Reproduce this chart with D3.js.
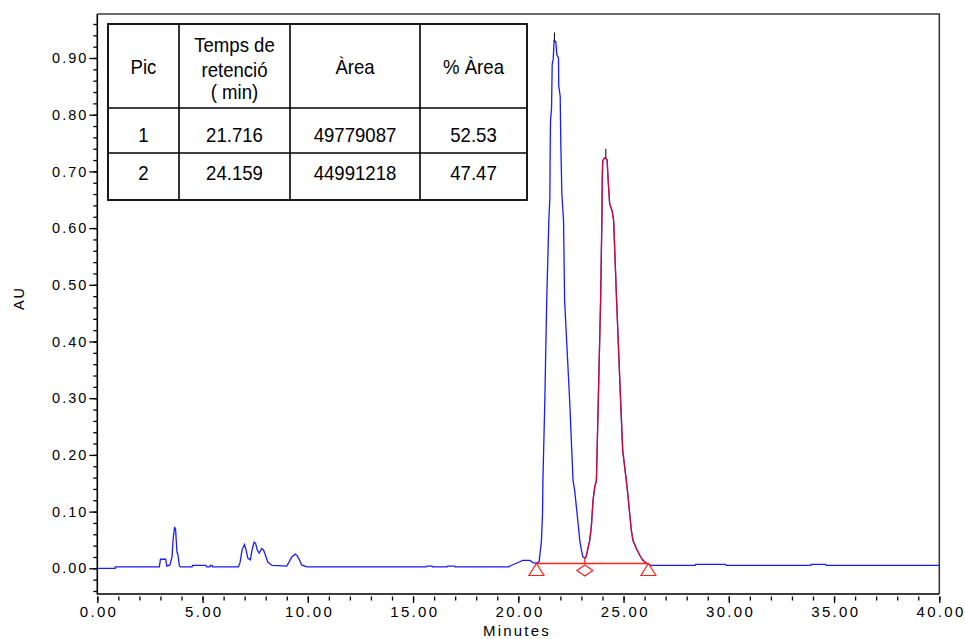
<!DOCTYPE html>
<html>
<head>
<meta charset="utf-8">
<script src="https://cdn.jsdelivr.net/npm/d3@7"></script>
<style>
body { margin: 0; background: #fff; }
svg { display: block; font-family: "Liberation Sans", Arial, sans-serif; }
</style>
</head>
<body>
<svg id="chart" width="965" height="639"></svg>
<script>
// chromatogram trace (minutes, AU)
var traceT = [0, 0.85, 0.86, 2.95, 3.0, 3.25, 3.3, 3.45, 3.55, 3.6, 3.67, 3.72, 3.78, 3.83, 3.9, 3.95,
  4.5, 4.52, 5.15, 5.2, 5.35, 5.37, 5.45, 5.48, 6.7, 6.78, 6.88, 6.99, 7.05, 7.15, 7.27, 7.35, 7.45,
  7.52, 7.6, 7.69, 7.81, 7.9, 7.98, 8.1, 8.3, 9.0, 9.08, 9.24, 9.4, 9.5, 9.6, 9.71, 9.95,
  15.62, 15.65, 15.9, 15.93, 16.62, 16.65, 16.98, 17.0, 19.55, 19.65, 19.85, 20.1, 20.2, 20.55, 20.7,
  20.86, 20.99, 21.1, 21.15, 21.17, 21.26, 21.35, 21.45, 21.5, 21.51, 21.53, 21.58, 21.61, 21.66, 21.7,
  21.78, 21.83, 21.91, 21.92, 21.99, 22.02, 22.07, 22.15, 22.2, 22.44, 22.54, 22.6, 22.68, 22.76, 22.84,
  22.92, 23.0, 23.07, 23.16, 23.22, 23.39, 23.47, 23.55, 23.63, 23.71, 23.8, 23.91, 23.97, 23.99, 24.01,
  24.1, 24.14, 24.22, 24.27, 24.34, 24.46, 24.53, 24.67, 24.86, 24.96, 25.13, 25.2, 25.29, 25.37, 25.45,
  25.61, 25.77, 25.92, 26.08, 26.3, 28.4, 28.42, 29.85, 29.88, 33.9, 33.92, 34.6, 34.63, 40];
var traceAU = [0, 0, 0.0025, 0.0025, 0.016, 0.016, 0.004, 0.006, 0.02, 0.05, 0.073, 0.068, 0.03, 0.024, 0.004, 0.0025,
  0.0025, 0.005, 0.005, 0.0025, 0.0025, 0.005, 0.005, 0.0025, 0.0025, 0.01, 0.033, 0.042, 0.035, 0.018, 0.015, 0.032, 0.046,
  0.044, 0.032, 0.027, 0.035, 0.032, 0.024, 0.011, 0.005, 0.004, 0.009, 0.02, 0.025, 0.022, 0.015, 0.006, 0.0025,
  0.0025, 0.004, 0.004, 0.0025, 0.0025, 0.004, 0.004, 0.0025, 0.0025, 0.005, 0.008, 0.012, 0.014, 0.014, 0.01,
  0.009, 0.012, 0.049, 0.096, 0.155, 0.296, 0.472, 0.613, 0.654, 0.72, 0.789, 0.812, 0.889, 0.898, 0.93,
  0.929, 0.906, 0.9, 0.851, 0.833, 0.748, 0.66, 0.613, 0.472, 0.296, 0.208, 0.155, 0.137, 0.108, 0.079,
  0.049, 0.032, 0.02, 0.018, 0.02, 0.049, 0.073, 0.12, 0.143, 0.155, 0.296, 0.472, 0.613, 0.689, 0.719,
  0.724, 0.724, 0.72, 0.683, 0.643, 0.63, 0.613, 0.472, 0.296, 0.208, 0.155, 0.132, 0.097, 0.067, 0.049,
  0.035, 0.023, 0.014, 0.009, 0.005, 0.005, 0.007, 0.007, 0.005, 0.005, 0.007, 0.007, 0.005, 0.005];

// peaks table
var peakIds = ["1", "2"];
var retTimes = [21.716, 24.159];
var areas = [49779087, 44991218];
var pctAreas = [52.53, 47.47];
var headerLines = [["Pic"], ["Temps de", "retenció", "( min)"], ["Àrea"], ["% Àrea"]];

// apex marks (top of the black tick, AU) and integration events
var apexTop = [0.945, 0.74];
var apexBottom = [0.929, 0.724];
var integStart = 20.86, integValley = 23.16, integEnd = 26.18, integBase = 0.0085;
var valleyAU = 0.018;

var xMajor = d3.range(0, 9).map(function(i){ return i * 5; });
var xMinor = d3.range(0, 41);
var yMajor = d3.range(0, 10).map(function(i){ return i / 10; });
var yMinor = d3.range(-2, 49).map(function(i){ return i / 50; });

var svg = d3.select("#chart");
var x = d3.scaleLinear().domain([0, 40]).range([97.3, 939.3]);
var y = d3.scaleLinear().domain([0, 0.1]).range([568.3, 511.6]);
var plotTop = 14, plotBottom = 594;

// frame (top + right are grey)
svg.append("path")
  .attr("d", "M" + x(0) + "," + plotTop + "H" + x(40) + "V" + plotBottom)
  .attr("fill", "none").attr("stroke", "#3c3c3c").attr("stroke-width", 1.6);

// y axis
var yMinorAxis = d3.axisLeft(y).tickValues(yMinor.filter(function(v){ return y(v) > plotTop && y(v) < plotBottom; }))
  .tickSize(4).tickFormat("");
var yMajorAxis = d3.axisLeft(y).tickValues(yMajor).tickSize(8).tickPadding(3).tickFormat(d3.format(".2f"));
var gy1 = svg.append("g").attr("transform", "translate(" + x(0) + ",0)").call(yMinorAxis);
var gy2 = svg.append("g").attr("transform", "translate(" + x(0) + ",0)").call(yMajorAxis);
[gy1, gy2].forEach(function(g){
  g.select(".domain").remove();
  g.selectAll("line").attr("stroke", "#000").attr("stroke-width", 1.3);
});
gy2.selectAll("text").attr("font-size", 14.5).attr("letter-spacing", 2).attr("dx", 2)
  .attr("font-family", "Liberation Sans, Arial, sans-serif").attr("fill", "#000");

// x axis
var xMinorAxis = d3.axisBottom(x).tickValues(xMinor).tickSize(0).tickFormat("");
var xMajorAxis = d3.axisBottom(x).tickValues(xMajor).tickSize(0).tickPadding(0).tickFormat(d3.format(".2f"));
var gx1 = svg.append("g").attr("transform", "translate(0," + plotBottom + ")").call(xMinorAxis);
var gx2 = svg.append("g").attr("transform", "translate(0," + plotBottom + ")").call(xMajorAxis);
gx1.select(".domain").remove(); gx2.select(".domain").remove();
gx1.selectAll("line").attr("y1", 2.5).attr("y2", 6.5).attr("stroke", "#000").attr("stroke-width", 1.3);
gx2.selectAll("line").attr("y1", 2.5).attr("y2", 9).attr("stroke", "#000").attr("stroke-width", 1.3);
gx2.selectAll("text").attr("y", 23).attr("dy", null).attr("font-size", 15).attr("letter-spacing", 2.3)
  .attr("dx", 1.2).attr("font-family", "Liberation Sans, Arial, sans-serif").attr("fill", "#000");

// axis lines
svg.append("path")
  .attr("d", "M" + x(0) + "," + plotTop + "V" + plotBottom + "H" + x(40))
  .attr("fill", "none").attr("stroke", "#000").attr("stroke-width", 1.6);

svg.append("text").attr("x", 517).attr("y", 636).attr("text-anchor", "middle")
  .attr("font-size", 15).attr("letter-spacing", 2.2).text("Minutes");
svg.append("text").attr("transform", "translate(24,298) rotate(-90)").attr("text-anchor", "middle")
  .attr("font-size", 14.5).attr("letter-spacing", 2).text("AU");

// trace
var pts = traceT.map(function(t, i){ return [t, traceAU[i]]; });
var line = d3.line().x(function(d){ return x(d[0]); }).y(function(d){ return y(d[1]); });
svg.append("path").datum(pts).attr("d", line)
  .attr("fill", "none").attr("stroke", "#1a1aff").attr("stroke-width", 1.3);
svg.append("path").datum(pts.filter(function(d){ return d[0] >= integValley && d[0] <= 26.3; })).attr("d", line)
  .attr("fill", "none").attr("stroke", "#ff0000").attr("stroke-opacity", 0.8).attr("stroke-width", 1.3);

// apex ticks
retTimes.forEach(function(t, i){
  svg.append("line").attr("x1", x(t)).attr("x2", x(t)).attr("y1", y(apexTop[i])).attr("y2", y(apexBottom[i]))
    .attr("stroke", "#000").attr("stroke-width", 1);
});

// integration baseline + markers
var red = "#ff2020";
svg.append("line").attr("x1", x(integStart)).attr("x2", x(integEnd)).attr("y1", y(integBase)).attr("y2", y(integBase))
  .attr("stroke", red).attr("stroke-width", 1.3);
svg.append("line").attr("x1", x(integValley)).attr("x2", x(integValley)).attr("y1", y(integBase)).attr("y2", y(valleyAU))
  .attr("stroke", red).attr("stroke-width", 1.3);
[integStart, integEnd].forEach(function(t){
  var cx = x(t), cy = y(integBase);
  svg.append("path").attr("d", "M" + cx + "," + cy + "L" + (cx + 7.5) + "," + (cy + 12) + "L" + (cx - 7.5) + "," + (cy + 12) + "Z")
    .attr("fill", "none").attr("stroke", red).attr("stroke-width", 1.2);
});
(function(){
  var cx = x(integValley), cy = y(integBase) + 1.5;
  svg.append("path").attr("d", "M" + cx + "," + cy + "L" + (cx + 8) + "," + (cy + 5.5) + "L" + cx + "," + (cy + 11) + "L" + (cx - 8) + "," + (cy + 5.5) + "Z")
    .attr("fill", "none").attr("stroke", red).attr("stroke-width", 1.2);
})();

// table
var colX = [108, 179, 290, 420, 527];
var rowY = [24, 108, 153, 200];
var tbl = svg.append("g");
tbl.append("rect").attr("x", colX[0]).attr("y", rowY[0]).attr("width", colX[4] - colX[0]).attr("height", rowY[3] - rowY[0])
  .attr("fill", "#fff").attr("stroke", "#000").attr("stroke-width", 1.8);
colX.slice(1, 4).forEach(function(cx){
  tbl.append("line").attr("x1", cx).attr("x2", cx).attr("y1", rowY[0]).attr("y2", rowY[3]).attr("stroke", "#000").attr("stroke-width", 1.6);
});
rowY.slice(1, 3).forEach(function(ry){
  tbl.append("line").attr("x1", colX[0]).attr("x2", colX[4]).attr("y1", ry).attr("y2", ry).attr("stroke", "#000").attr("stroke-width", 1.6);
});
function cellText(cx, by, s){
  tbl.append("text").attr("transform", "translate(" + cx + "," + by + ") scale(0.93,1)")
    .attr("text-anchor", "middle").attr("font-size", 20).attr("fill", "#000").text(s);
}
var centers = colX.slice(0, 4).map(function(c, i){ return (c + colX[i + 1]) / 2; });
headerLines.forEach(function(lines, i){
  if (lines.length === 1) cellText(centers[i], 74, lines[0]);
  else lines.forEach(function(s, j){ cellText(centers[i], [51.7, 76.7, 99.3][j], s); });
});
var rowBase = [141.7, 180];
peakIds.forEach(function(id, i){
  cellText(centers[0], rowBase[i], id);
  cellText(centers[1], rowBase[i], d3.format(".3f")(retTimes[i]));
  cellText(centers[2], rowBase[i], String(areas[i]));
  cellText(centers[3], rowBase[i], d3.format(".2f")(pctAreas[i]));
});
</script>
</body>
</html>
